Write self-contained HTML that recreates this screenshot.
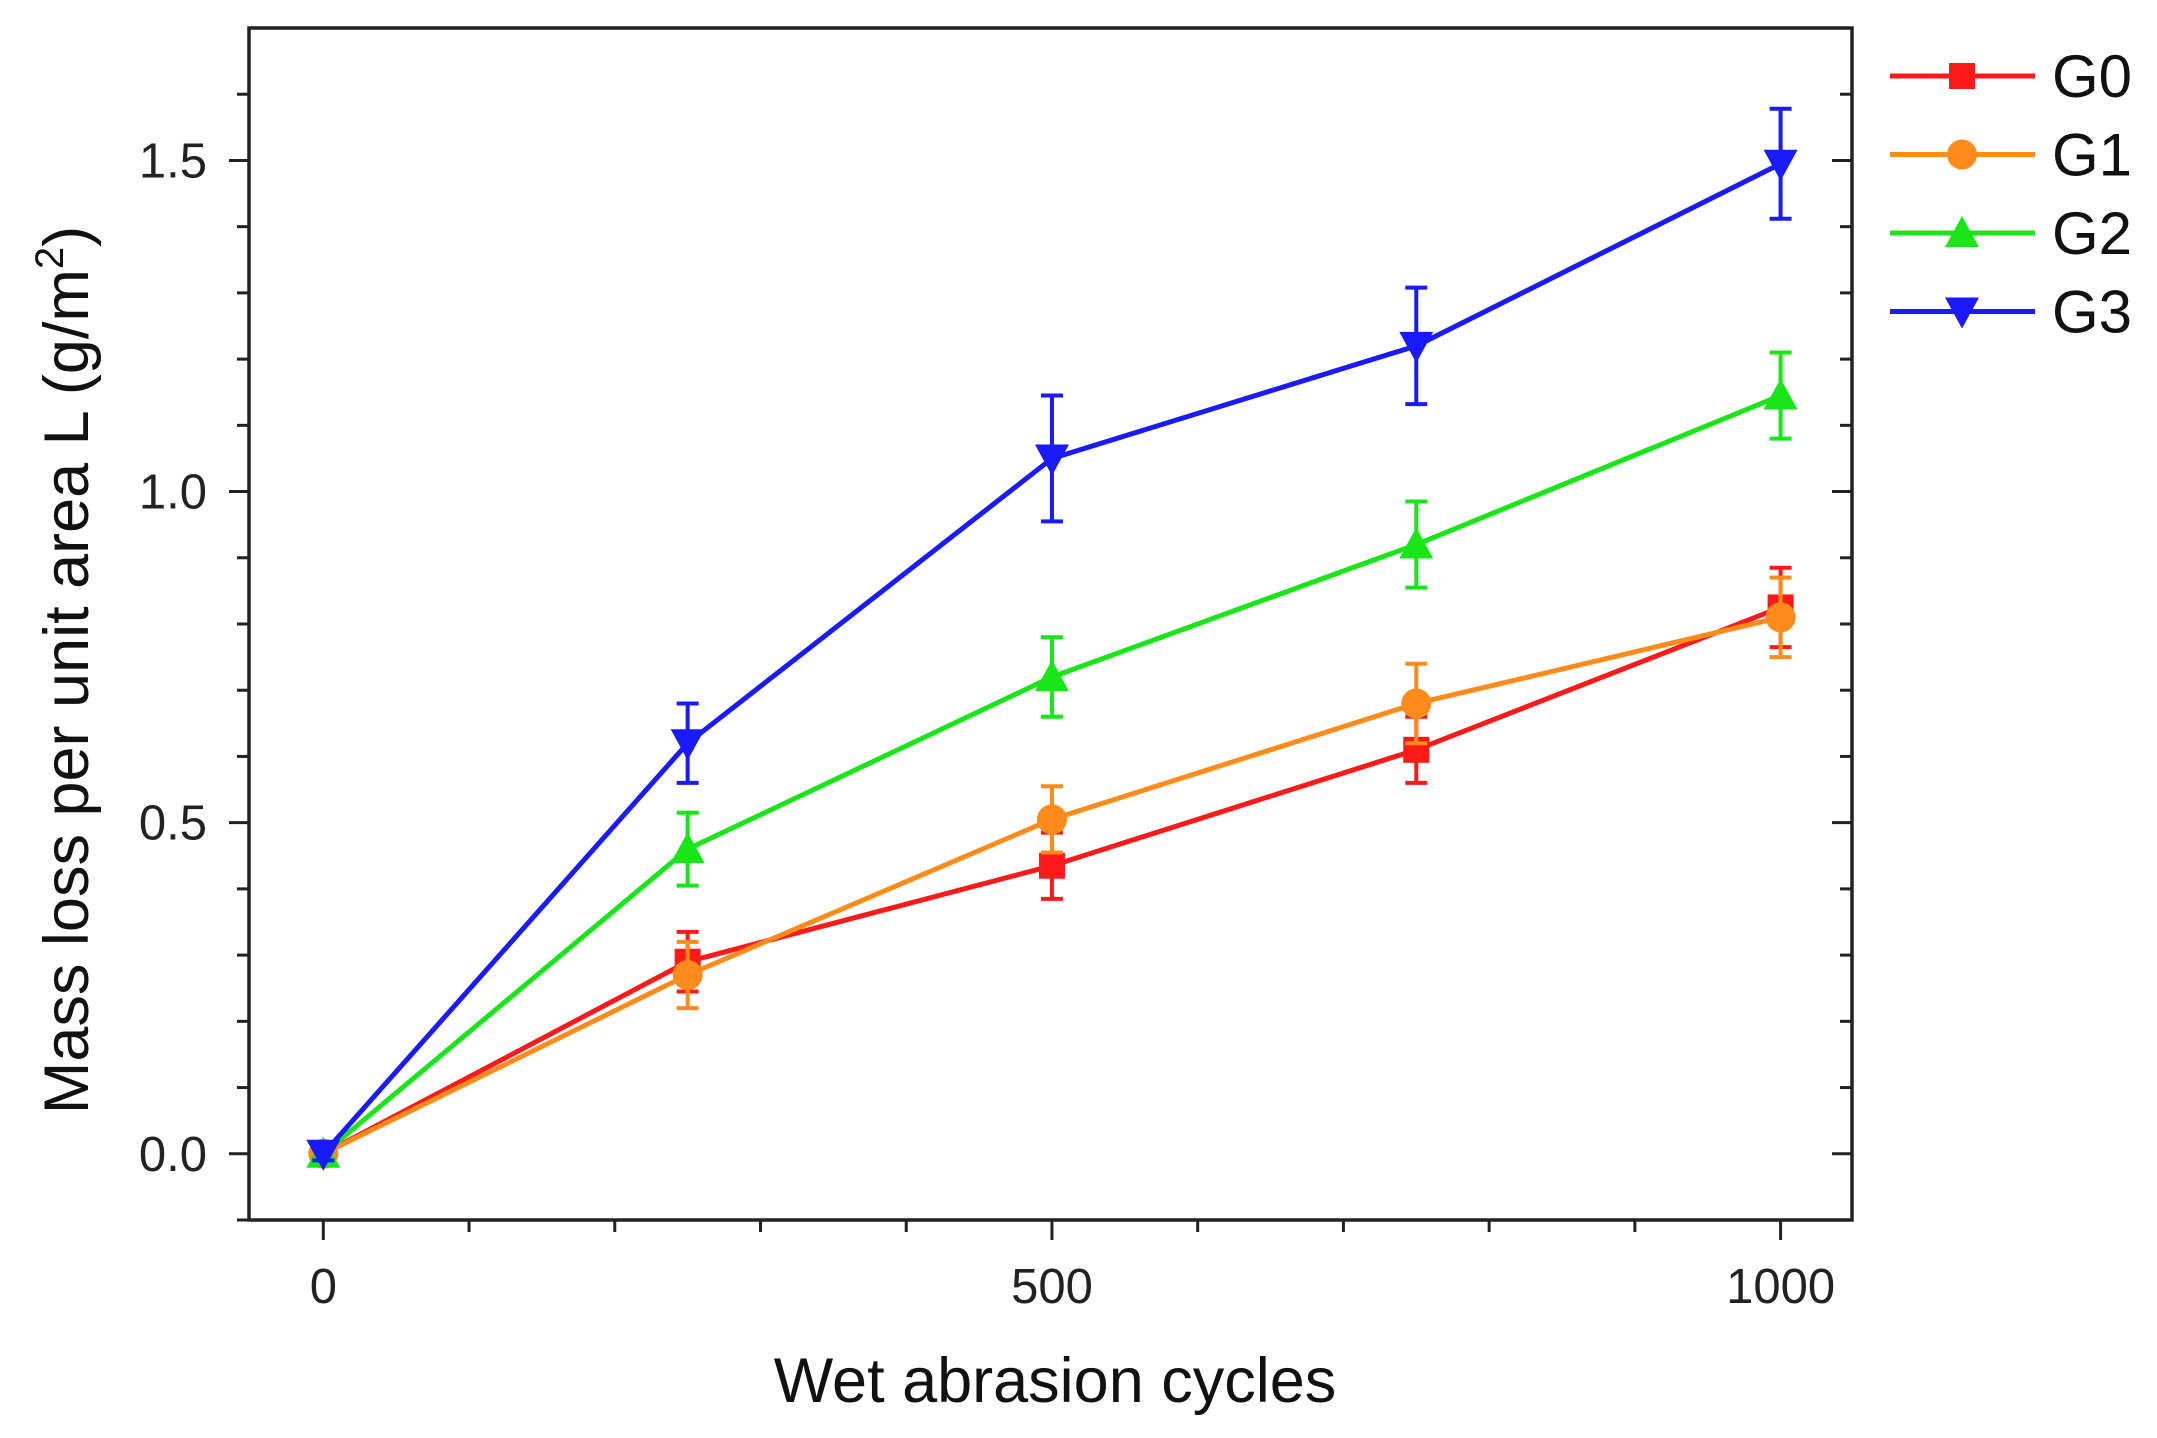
<!DOCTYPE html>
<html><head><meta charset="utf-8"><style>
html,body{margin:0;padding:0;background:#fff}
svg{display:block;font-family:"Liberation Sans",sans-serif}
</style></head><body>
<svg id="chart" width="2157" height="1438" viewBox="0 0 2157 1438"></svg>
<script>
const xCats = [0, 250, 500, 750, 1000];
const g0 = [0, 0.29, 0.435, 0.61, 0.825];
const g0err = [0.01, 0.045, 0.05, 0.05, 0.06];
const g1 = [0, 0.27, 0.505, 0.68, 0.81];
const g1err = [0.01, 0.05, 0.05, 0.06, 0.06];
const g2 = [0, 0.46, 0.72, 0.92, 1.145];
const g2err = [0.01, 0.055, 0.06, 0.065, 0.065];
const g3 = [0, 0.62, 1.05, 1.22, 1.495];
const g3err = [0.01, 0.06, 0.095, 0.088, 0.083];
const yTickLabels = ["0.0", "0.5", "1.0", "1.5"];
const xTickLabels = ["0", "500", "1000"];

const NS = "http://www.w3.org/2000/svg";
const svg = document.getElementById("chart");
const L = 249, R = 1852, T = 28, B = 1220;
const xMin = -51, xMax = 1049, yMin = -0.1, yMax = 1.7;
const xs = v => L + (v - xMin) / (xMax - xMin) * (R - L);
const ys = v => B - (v - yMin) / (yMax - yMin) * (B - T);
function mk(tag, attrs, parent) {
  const e = document.createElementNS(NS, tag);
  for (const k in attrs) e.setAttribute(k, attrs[k]);
  (parent || svg).appendChild(e);
  return e;
}
const axes = mk("g", {});


const frame = mk("rect", {x: L, y: T, width: R - L, height: B - T, fill: "none", stroke: "#222", "stroke-width": 3.5}, axes);


for (let i = 0; i <= 17; i++) {
  const v = -0.1 + i * 0.1;
  const y = ys(v);
  const major = Math.abs((v * 2) - Math.round(v * 2)) < 1e-6;
  const len = major ? 20 : 12;
  const t1 = mk("line", {x1: L - len, x2: L, y1: y, y2: y, stroke: "#222", "stroke-width": 3}, axes);
  
  
  const t2 = mk("line", {x1: R - len, x2: R, y1: y, y2: y, stroke: "#222", "stroke-width": 3}, axes);
  
  
}
yTickLabels.forEach(s => {
  const t = mk("text", {x: 207, y: ys(parseFloat(s)) + 17, "text-anchor": "end", "font-size": 49, fill: "#222"}, axes);
  t.textContent = s;
  
  
});
for (let v = 0; v <= 1000; v += 100) {
  const x = xs(v);
  const len = v % 500 === 0 ? 20 : 12;
  const t = mk("line", {x1: x, x2: x, y1: B, y2: B + len, stroke: "#222", "stroke-width": 3}, axes);
  
  
}
xTickLabels.forEach(s => {
  const t = mk("text", {x: xs(parseFloat(s)), y: 1303, "text-anchor": "middle", "font-size": 49, fill: "#222"}, axes);
  t.textContent = s;
  
  
});
const xt = mk("text", {x: 1055, y: 1402, "text-anchor": "middle", "font-size": 63, fill: "#111"});
xt.textContent = "Wet abrasion cycles";


const yt = mk("text", {x: 0, y: 0, "text-anchor": "middle", "font-size": 63, fill: "#111", transform: "translate(88,670) rotate(-90)"});
yt.innerHTML = 'Mass loss per unit area L (g/m<tspan dy="-25" font-size="40">2</tspan><tspan dy="25">)</tspan>';



function marker(kind, cx, cy, color, parent) {
  let e;
  if (kind === "square") e = mk("rect", {x: cx - 13, y: cy - 13, width: 26, height: 26, fill: color}, parent);
  else if (kind === "circle") e = mk("circle", {cx: cx, cy: cy, r: 15, fill: color}, parent);
  else if (kind === "up") e = mk("polygon", {points: `${cx},${cy-17} ${cx-17},${cy+14} ${cx+17},${cy+14}`, fill: color}, parent);
  else e = mk("polygon", {points: `${cx},${cy+17} ${cx-17},${cy-14} ${cx+17},${cy-14}`, fill: color}, parent);
  return e;
}
const series = [
  {name: "G0", vals: g0, err: g0err, color: "#ff1a1a", kind: "square"},
  {name: "G1", vals: g1, err: g1err, color: "#ff8c1a", kind: "circle"},
  {name: "G2", vals: g2, err: g2err, color: "#19e619", kind: "up"},
  {name: "G3", vals: g3, err: g3err, color: "#1a1aff", kind: "down"}
];
series.forEach((s, si) => {
  const g = mk("g", {});
  
  
  const pts = xCats.map((x, i) => xs(x) + "," + ys(s.vals[i])).join(" ");
  const pl = mk("polyline", {points: pts, fill: "none", stroke: s.color, "stroke-width": 5}, g);
  
  
  xCats.forEach((x, i) => {
    const cx = xs(x), y1 = ys(s.vals[i] + s.err[i]), y2 = ys(s.vals[i] - s.err[i]);
    const eb = mk("path", {d: `M${cx},${y1}V${y2}M${cx-11},${y1}H${cx+11}M${cx-11},${y2}H${cx+11}`, stroke: s.color, "stroke-width": 4, fill: "none"}, g);
    
    
    const m = marker(s.kind, cx, ys(s.vals[i]), s.color, g);
    
    
  });
  const ly = 76 + si * 78.5;
  const le = mk("g", {});
  
  
  mk("line", {x1: 1890, x2: 2035, y1: ly, y2: ly, stroke: s.color, "stroke-width": 5}, le);
  marker(s.kind, 1962, ly, s.color, le);
  const lt = mk("text", {x: 2052, y: ly + 21, "font-size": 60, fill: "#111"}, le);
  lt.textContent = s.name;
});
</script>
</body></html>
